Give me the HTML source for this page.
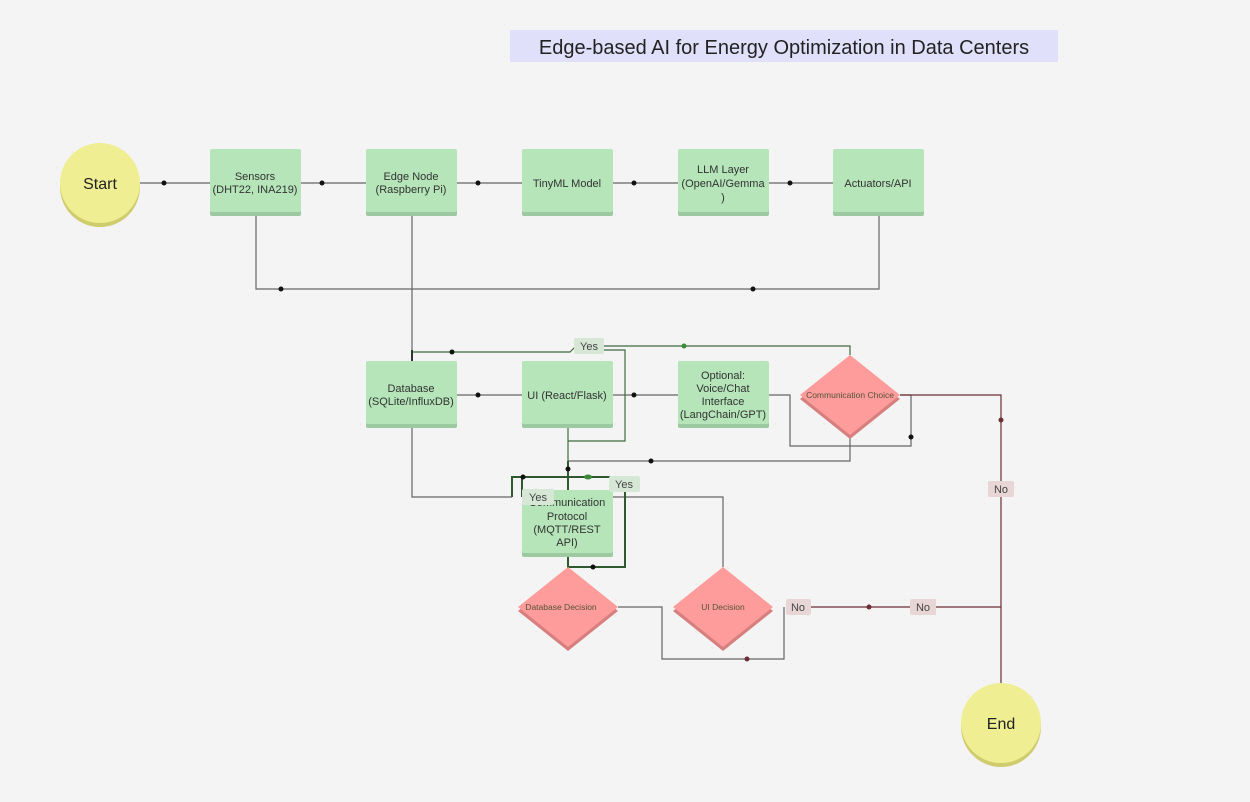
<!DOCTYPE html>
<html><head><meta charset="utf-8"><style>
html,body{margin:0;padding:0;width:1250px;height:802px;overflow:hidden;background:#f4f4f4;font-family:"Liberation Sans",sans-serif}
</style></head><body>
<svg width="1250" height="802" xmlns="http://www.w3.org/2000/svg" font-family="Liberation Sans, sans-serif">
<defs>
<pattern id="g" width="16" height="16" patternUnits="userSpaceOnUse"><circle cx="8" cy="8" r="0.7" fill="#dcdcdc"/></pattern>
</defs>
<rect width="1250" height="802" fill="url(#g)"/>
<rect x="510" y="30" width="548" height="32" fill="#e1e0fb"/>
<text x="784" y="54" font-size="20" text-anchor="middle" fill="#222">Edge-based AI for Energy Optimization in Data Centers</text>

<g fill="none" stroke="#666" stroke-width="1.2">
<path d="M140 183H210M301 183H366M457 183H522M613 183H678M769 183H833"/>
<path d="M256 215V289H879V215M412 215V361"/>
<path d="M457 395H522M613 395H678"/>
<path d="M769 395H790V446H911V395H900"/>
<path d="M412 428V497H512"/>
<path d="M850 435V461H568"/>
<path d="M613 497H723V567"/>
<path d="M618 607H662V659H784V607"/>
</g>
<g fill="none" stroke="#3f6b3f" stroke-width="1.2">
<path d="M850 355V346H602M576 346L570 352H412"/>
<path d="M568 428V490M568 441H625V350H602"/>
<path d="M412 350V361" stroke="#333" stroke-width="2"/>
</g>
<g fill="none" stroke="#2f5a2f" stroke-width="2">
<path d="M568 461V490M512 497V477H625V490M522 497V477"/>
<path d="M568 556V567H625V490"/>
</g>
<g fill="none" stroke="#6b2f35" stroke-width="1.2">
<path d="M900 395H1001V683M810 607H1001"/>
</g>
<g fill="#111">
<circle cx="164" cy="183" r="2.5"/><circle cx="322" cy="183" r="2.5"/><circle cx="478" cy="183" r="2.5"/><circle cx="634" cy="183" r="2.5"/><circle cx="790" cy="183" r="2.5"/>
<circle cx="281" cy="289" r="2.5"/><circle cx="753" cy="289" r="2.5"/>
<circle cx="452" cy="352" r="2.5"/><circle cx="478" cy="395" r="2.5"/><circle cx="634" cy="395" r="2.5"/>
<circle cx="911" cy="437" r="2.5"/><circle cx="651" cy="461" r="2.5"/><circle cx="568" cy="469" r="2.5"/>
<circle cx="523" cy="477" r="2.5"/><circle cx="593" cy="567" r="2.5"/>
</g>
<circle cx="684" cy="346" r="2.5" fill="#3a8a3a"/><ellipse cx="588" cy="477" rx="4" ry="2.5" fill="#3a8a3a"/>
<g fill="#6b2f35"><circle cx="1001" cy="420" r="2.5"/><circle cx="869" cy="607" r="2.5"/><circle cx="747" cy="659" r="2.5"/></g>

<!-- circles -->
<circle cx="100" cy="187" r="40" fill="#cfcc6e"/><circle cx="100" cy="183" r="40" fill="#f0ee93"/>
<text x="100" y="189" font-size="16" text-anchor="middle" fill="#222">Start</text>
<circle cx="1001" cy="727" r="40" fill="#cfcc6e"/><circle cx="1001" cy="723" r="40" fill="#f0ee93"/>
<text x="1001" y="729" font-size="16" text-anchor="middle" fill="#222">End</text>

<!-- boxes -->
<g font-size="11" fill="#333" text-anchor="middle">
<g><rect x="210" y="153" width="91" height="63" rx="2" fill="#9dc9a0"/><rect x="210" y="149" width="91" height="63" rx="2" fill="#b5e5b9"/><text x="255" y="180">Sensors</text><text x="255" y="193">(DHT22, INA219)</text></g>
<g><rect x="366" y="153" width="91" height="63" rx="2" fill="#9dc9a0"/><rect x="366" y="149" width="91" height="63" rx="2" fill="#b5e5b9"/><text x="411" y="180">Edge Node</text><text x="411" y="193">(Raspberry Pi)</text></g>
<g><rect x="522" y="153" width="91" height="63" rx="2" fill="#9dc9a0"/><rect x="522" y="149" width="91" height="63" rx="2" fill="#b5e5b9"/><text x="567" y="187">TinyML Model</text></g>
<g><rect x="678" y="153" width="91" height="63" rx="2" fill="#9dc9a0"/><rect x="678" y="149" width="91" height="63" rx="2" fill="#b5e5b9"/><text x="723" y="173">LLM Layer</text><text x="723" y="187">(OpenAI/Gemma</text><text x="723" y="201">)</text></g>
<g><rect x="833" y="153" width="91" height="63" rx="2" fill="#9dc9a0"/><rect x="833" y="149" width="91" height="63" rx="2" fill="#b5e5b9"/><text x="878" y="187">Actuators/API</text></g>
<g><rect x="366" y="365" width="91" height="63" rx="2" fill="#9dc9a0"/><rect x="366" y="361" width="91" height="63" rx="2" fill="#b5e5b9"/><text x="411" y="392">Database</text><text x="411" y="405">(SQLite/InfluxDB)</text></g>
<g><rect x="522" y="365" width="91" height="63" rx="2" fill="#9dc9a0"/><rect x="522" y="361" width="91" height="63" rx="2" fill="#b5e5b9"/><text x="567" y="399">UI (React/Flask)</text></g>
<g><rect x="678" y="365" width="91" height="63" rx="2" fill="#9dc9a0"/><rect x="678" y="361" width="91" height="63" rx="2" fill="#b5e5b9"/><text x="723" y="379">Optional:</text><text x="723" y="392">Voice/Chat</text><text x="723" y="405">Interface</text><text x="723" y="418">(LangChain/GPT)</text></g>
<g><rect x="522" y="494" width="91" height="63" rx="2" fill="#9dc9a0"/><rect x="522" y="490" width="91" height="63" rx="2" fill="#b5e5b9"/><text x="567" y="506">Communication</text><text x="567" y="520">Protocol</text><text x="567" y="533">(MQTT/REST</text><text x="567" y="546">API)</text></g>
</g>

<!-- diamonds -->
<g font-size="8.5" fill="#553" text-anchor="middle">
<polygon points="850,359 900,399 850,439 800,399" fill="#d77f7f"/><polygon points="850,355 900,395 850,435 800,395" fill="#fe9b9b"/><text x="850" y="398">Communication Choice</text>
<polygon points="568,571 618,611 568,651 518,611" fill="#d77f7f"/><polygon points="568,567 618,607 568,647 518,607" fill="#fe9b9b"/><text x="561" y="610">Database Decision</text>
<polygon points="723,571 773,611 723,651 673,611" fill="#d77f7f"/><polygon points="723,567 773,607 723,647 673,607" fill="#fe9b9b"/><text x="723" y="610">UI Decision</text>
</g>

<!-- labels -->
<g font-size="11" text-anchor="middle">
<rect x="574" y="338" width="30" height="16" rx="2" fill="#d6e7d6"/><text x="589" y="350" fill="#444">Yes</text>
<rect x="522" y="489" width="32" height="16" rx="2" fill="#d6e7d6"/><text x="538" y="501" fill="#444">Yes</text>
<rect x="609" y="476" width="31" height="16" rx="2" fill="#d6e7d6"/><text x="624" y="488" fill="#444">Yes</text>
<rect x="988" y="481" width="26" height="16" rx="2" fill="#e8d6d6"/><text x="1001" y="493" fill="#444">No</text>
<rect x="786" y="599" width="25" height="16" rx="2" fill="#e8d6d6"/><text x="798" y="611" fill="#444">No</text>
<rect x="910" y="599" width="26" height="16" rx="2" fill="#e8d6d6"/><text x="923" y="611" fill="#444">No</text>
</g>
</svg>
</body></html>
